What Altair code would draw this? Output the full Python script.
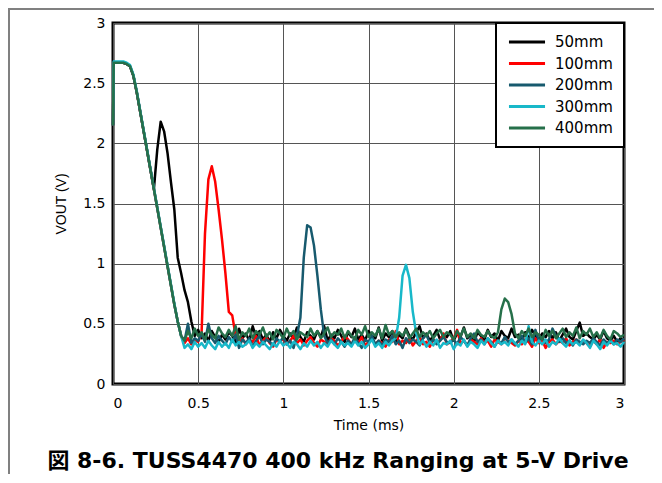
import altair as alt
import pandas as pd

TIME = [
    0.0, 0.004, 0.02, 0.04, 0.06, 0.08, 0.10, 0.12, 0.14, 0.16,
    0.18, 0.20, 0.22, 0.24, 0.26, 0.28, 0.30, 0.32, 0.34, 0.36,
    0.38, 0.40, 0.42, 0.44, 0.46, 0.48, 0.50, 0.52, 0.54, 0.56,
    0.58, 0.60, 0.62, 0.64, 0.66, 0.68, 0.70, 0.72, 0.74, 0.76,
    0.78, 0.80, 0.82, 0.84, 0.86, 0.88, 0.90, 0.92, 0.94, 0.96,
    0.98, 1.00, 1.02, 1.04, 1.06, 1.08, 1.10, 1.12, 1.14, 1.16,
    1.18, 1.20, 1.22, 1.24, 1.26, 1.28, 1.30, 1.32, 1.34, 1.36,
    1.38, 1.40, 1.42, 1.44, 1.46, 1.48, 1.50, 1.52, 1.54, 1.56,
    1.58, 1.60, 1.62, 1.64, 1.66, 1.68, 1.70, 1.72, 1.74, 1.76,
    1.78, 1.80, 1.82, 1.84, 1.86, 1.88, 1.90, 1.92, 1.94, 1.96,
    1.98, 2.00, 2.02, 2.04, 2.06, 2.08, 2.10, 2.12, 2.14, 2.16,
    2.18, 2.20, 2.22, 2.24, 2.26, 2.28, 2.30, 2.32, 2.34, 2.36,
    2.38, 2.40, 2.42, 2.44, 2.46, 2.48, 2.50, 2.52, 2.54, 2.56,
    2.58, 2.60, 2.62, 2.64, 2.66, 2.68, 2.70, 2.72, 2.74, 2.76,
    2.78, 2.80, 2.82, 2.84, 2.86, 2.88, 2.90, 2.92, 2.94, 2.96,
    2.98, 3.00,
]

V_50MM = [
    2.15, 2.67, 2.67, 2.67, 2.67, 2.66, 2.64, 2.56, 2.42, 2.26,
    2.10, 1.94, 1.78, 1.62, 1.95, 2.18, 2.10, 1.92, 1.68, 1.45,
    1.05, 0.92, 0.78, 0.68, 0.52, 0.40, 0.45, 0.38, 0.42, 0.36,
    0.44, 0.39, 0.35, 0.41, 0.37, 0.43, 0.40, 0.34, 0.46, 0.38,
    0.42, 0.36, 0.48, 0.39, 0.44, 0.37, 0.41, 0.35, 0.43, 0.38,
    0.45, 0.40, 0.36, 0.42, 0.38, 0.47, 0.39, 0.35, 0.43, 0.40,
    0.37, 0.44, 0.39, 0.48, 0.36, 0.41, 0.38, 0.45, 0.40, 0.35,
    0.43, 0.39, 0.46, 0.37, 0.41, 0.36, 0.44, 0.40, 0.38, 0.47,
    0.36, 0.42, 0.39, 0.44, 0.35, 0.41, 0.38, 0.46, 0.40, 0.37,
    0.43, 0.48, 0.38, 0.42, 0.36, 0.40, 0.45, 0.37, 0.41, 0.39,
    0.44, 0.36, 0.42, 0.39, 0.47, 0.38, 0.41, 0.35, 0.43, 0.40,
    0.37, 0.45, 0.39, 0.42, 0.36, 0.44, 0.40, 0.38, 0.46, 0.39,
    0.41, 0.36, 0.43, 0.38, 0.45, 0.40, 0.37, 0.42, 0.39, 0.44,
    0.38, 0.43, 0.36, 0.41, 0.46, 0.39, 0.37, 0.44, 0.51, 0.40,
    0.42, 0.39, 0.37, 0.41, 0.37, 0.44, 0.38, 0.36, 0.40, 0.35,
    0.38, 0.36,
]

V_100MM = [
    2.15, 2.67, 2.67, 2.67, 2.67, 2.66, 2.64, 2.56, 2.42, 2.26,
    2.10, 1.94, 1.78, 1.62, 1.46, 1.30, 1.14, 0.98, 0.82, 0.66,
    0.52, 0.40, 0.34, 0.38, 0.33, 0.36, 0.35, 0.42, 1.25, 1.70,
    1.81, 1.68, 1.45, 1.20, 0.92, 0.60, 0.57, 0.40, 0.34, 0.38,
    0.33, 0.37, 0.35, 0.40, 0.32, 0.36, 0.39, 0.34, 0.31, 0.37,
    0.35, 0.38, 0.33, 0.36, 0.40, 0.34, 0.37, 0.32, 0.36, 0.39,
    0.34, 0.31, 0.37, 0.35, 0.33, 0.38, 0.36, 0.32, 0.35, 0.40,
    0.37, 0.33, 0.36, 0.34, 0.39, 0.32, 0.35, 0.38, 0.33, 0.36,
    0.34, 0.31, 0.37, 0.35, 0.44, 0.33, 0.36, 0.34, 0.38, 0.32,
    0.36, 0.39, 0.33, 0.35, 0.31, 0.37, 0.34, 0.36, 0.42, 0.33,
    0.35, 0.38, 0.45, 0.34, 0.36, 0.32, 0.37, 0.35, 0.33, 0.38,
    0.34, 0.36, 0.31, 0.37, 0.35, 0.33, 0.38, 0.36, 0.34, 0.32,
    0.36, 0.33, 0.37, 0.35, 0.31, 0.38, 0.34, 0.36, 0.30, 0.35,
    0.37, 0.33, 0.36, 0.34, 0.38, 0.32, 0.35, 0.37, 0.33, 0.36,
    0.34, 0.31, 0.36, 0.33, 0.37, 0.30, 0.35, 0.34, 0.36, 0.33,
    0.35, 0.37,
]

V_200MM = [
    2.15, 2.67, 2.67, 2.67, 2.67, 2.66, 2.64, 2.56, 2.42, 2.26,
    2.10, 1.94, 1.78, 1.62, 1.46, 1.30, 1.14, 0.98, 0.82, 0.66,
    0.52, 0.40, 0.36, 0.50, 0.34, 0.38, 0.36, 0.42, 0.35, 0.50,
    0.38, 0.34, 0.40, 0.36, 0.33, 0.39, 0.35, 0.41, 0.30, 0.37,
    0.34, 0.38, 0.31, 0.36, 0.40, 0.33, 0.37, 0.35, 0.32, 0.38,
    0.35, 0.39, 0.33, 0.36, 0.30, 0.40, 0.55, 1.05, 1.32, 1.30,
    1.15, 0.90, 0.62, 0.40, 0.34, 0.37, 0.33, 0.38, 0.35, 0.31,
    0.36, 0.33, 0.39, 0.34, 0.30, 0.37, 0.35, 0.40, 0.33, 0.36,
    0.32, 0.37, 0.35, 0.40, 0.33, 0.36, 0.30, 0.38, 0.34, 0.37,
    0.35, 0.32, 0.38, 0.41, 0.34, 0.37, 0.33, 0.36, 0.39, 0.35,
    0.34, 0.37, 0.33, 0.39, 0.36, 0.32, 0.38, 0.42, 0.35, 0.37,
    0.33, 0.38, 0.35, 0.31, 0.36, 0.34, 0.39, 0.35, 0.37, 0.33,
    0.36, 0.40, 0.34, 0.38, 0.33, 0.45, 0.36, 0.39, 0.34, 0.37,
    0.46, 0.40, 0.35, 0.38, 0.34, 0.36, 0.32, 0.37, 0.35, 0.33,
    0.36, 0.34, 0.38, 0.35, 0.32, 0.37, 0.34, 0.36, 0.33, 0.37,
    0.35, 0.38,
]

V_300MM = [
    2.15, 2.68, 2.68, 2.68, 2.68, 2.67, 2.65, 2.57, 2.43, 2.27,
    2.11, 1.95, 1.79, 1.63, 1.47, 1.31, 1.15, 0.99, 0.83, 0.67,
    0.52, 0.40, 0.30, 0.33, 0.29, 0.35, 0.31, 0.34, 0.30, 0.36,
    0.32, 0.29, 0.35, 0.31, 0.34, 0.30, 0.37, 0.32, 0.35, 0.31,
    0.33, 0.36, 0.30, 0.34, 0.31, 0.35, 0.32, 0.29, 0.34, 0.31,
    0.36, 0.32, 0.34, 0.30, 0.35, 0.33, 0.29, 0.34, 0.31, 0.36,
    0.32, 0.35, 0.30, 0.34, 0.31, 0.36, 0.33, 0.30, 0.35, 0.32,
    0.34, 0.31, 0.36, 0.32, 0.35, 0.30, 0.33, 0.37, 0.31, 0.34,
    0.30, 0.35, 0.32, 0.36, 0.38, 0.55, 0.90, 0.99, 0.88, 0.60,
    0.42, 0.33, 0.36, 0.31, 0.35, 0.32, 0.37, 0.30, 0.34, 0.33,
    0.36, 0.29, 0.34, 0.32, 0.37, 0.31, 0.35, 0.33, 0.30, 0.36,
    0.33, 0.38, 0.34, 0.31, 0.36, 0.33, 0.35, 0.32, 0.37, 0.34,
    0.31, 0.36, 0.33, 0.48, 0.35, 0.32, 0.36, 0.33, 0.37, 0.31,
    0.35, 0.33, 0.38, 0.34, 0.31, 0.36, 0.33, 0.35, 0.32, 0.37,
    0.34, 0.30, 0.36, 0.33, 0.29, 0.35, 0.32, 0.36, 0.33, 0.34,
    0.31, 0.35,
]

V_400MM = [
    2.15, 2.67, 2.67, 2.67, 2.67, 2.66, 2.64, 2.56, 2.42, 2.26,
    2.10, 1.94, 1.78, 1.62, 1.46, 1.30, 1.14, 0.98, 0.82, 0.66,
    0.52, 0.40, 0.36, 0.44, 0.38, 0.46, 0.40, 0.43, 0.37, 0.45,
    0.41, 0.38, 0.47, 0.42, 0.39, 0.45, 0.40, 0.48, 0.37, 0.43,
    0.40, 0.46, 0.38, 0.44, 0.41, 0.47, 0.39, 0.43, 0.37, 0.45,
    0.42, 0.38, 0.46, 0.40, 0.44, 0.37, 0.43, 0.41, 0.39, 0.46,
    0.40, 0.44, 0.38, 0.42, 0.47, 0.39, 0.43, 0.41, 0.46, 0.38,
    0.44, 0.40, 0.37, 0.45, 0.41, 0.48, 0.39, 0.43, 0.40, 0.46,
    0.38, 0.49, 0.41, 0.44, 0.39, 0.43, 0.40, 0.45, 0.38, 0.42,
    0.46, 0.39, 0.43, 0.40, 0.44, 0.38, 0.42, 0.45, 0.39, 0.43,
    0.41, 0.37, 0.44, 0.40, 0.46, 0.39, 0.42, 0.38, 0.45, 0.41,
    0.39, 0.44, 0.40, 0.38, 0.43, 0.62, 0.71, 0.68, 0.58, 0.42,
    0.38, 0.44, 0.40, 0.46, 0.39, 0.43, 0.41, 0.37, 0.45, 0.40,
    0.44, 0.38, 0.42, 0.46, 0.39, 0.43, 0.40, 0.47, 0.38, 0.44,
    0.41, 0.46, 0.39, 0.43, 0.38, 0.45, 0.40, 0.37, 0.44, 0.42,
    0.39, 0.41,
]

SERIES = ["50mm", "100mm", "200mm", "300mm", "400mm"]
COLORS = ["#000000", "#ff0000", "#175a6e", "#18b8c9", "#26704a"]
VALUES = [V_50MM, V_100MM, V_200MM, V_300MM, V_400MM]
TITLE = "図 8-6. TUSS4470 400 kHz Ranging at 5-V Drive"

rows = []
for order, (name, vals) in enumerate(zip(SERIES, VALUES)):
    assert len(vals) == len(TIME), (name, len(vals), len(TIME))
    for t, v in zip(TIME, vals):
        rows.append({"time": t, "vout": v, "series": name, "order": order})
df = pd.DataFrame(rows)

WIDE = "DejaVu Sans, Noto Sans CJK JP"
NARROW = "Liberation Sans, Arial"

lines = alt.Chart(df).mark_line(strokeWidth=2.5, strokeJoin="round").encode(
    x=alt.X("time:Q", title="Time (ms)",
            scale=alt.Scale(domain=[0, 3], nice=False),
            axis=alt.Axis(values=[0, 0.5, 1, 1.5, 2, 2.5, 3], format="~g")),
    y=alt.Y("vout:Q", title="VOUT (V)",
            scale=alt.Scale(domain=[0, 3], nice=False),
            axis=alt.Axis(values=[0, 0.5, 1, 1.5, 2, 2.5, 3], format="~g",
                          titleFont=NARROW, titleFontSize=14)),
    color=alt.Color("series:N", sort=SERIES,
                    scale=alt.Scale(domain=SERIES, range=COLORS),
                    legend=alt.Legend(title=None, orient="top-right", offset=0,
                                      symbolType="stroke", symbolSize=1300,
                                      symbolStrokeWidth=3, labelFontSize=15,
                                      labelFont=WIDE, labelColor="#000000",
                                      padding=11, rowPadding=5.5, clipHeight=16,
                                      strokeColor="#000000", fillColor="#ffffff",
                                      labelOffset=8)),
    order=alt.Order("order:Q"),
    detail="series:N",
)

one = pd.DataFrame({"k": [0]})
frame_top = alt.Chart(one).mark_rule(color="#808080", strokeWidth=2).encode(
    x=alt.value(-105), x2=alt.value(541), y=alt.value(-14))
frame_left = alt.Chart(one).mark_rule(color="#808080", strokeWidth=2).encode(
    x=alt.value(-104), y=alt.value(-15), y2=alt.value(451))

title = alt.Chart(pd.DataFrame({"t": [TITLE]})).mark_text(
    fontSize=22, fontWeight="bold", font=WIDE, color="#000000",
    align="center", baseline="alphabetic").encode(
    text="t:N", x=alt.value(225), y=alt.value(445))

chart = alt.layer(lines, frame_top, frame_left, title).properties(
    width=511, height=361,
    autosize=alt.AutoSizeParams(type="none"),
    padding={"left": 105, "top": 15, "right": 30, "bottom": 90},
).configure_view(
    stroke="#000000", strokeWidth=3,
).configure_axis(
    grid=True, gridColor="#555555", gridWidth=1, gridOpacity=1,
    ticks=False, domain=False,
    labelFontSize=14, labelFont=WIDE, labelColor="#000000", labelPadding=8,
    titleFontSize=14, titleFont=WIDE, titleColor="#000000",
    titleFontWeight="normal",
).configure_axisX(titlePadding=8, labelPadding=12).configure_axisY(
    titlePadding=14
).configure_legend(strokeWidth=2)

chart.save("out.html", embed_options={"renderer": "svg", "actions": False})
